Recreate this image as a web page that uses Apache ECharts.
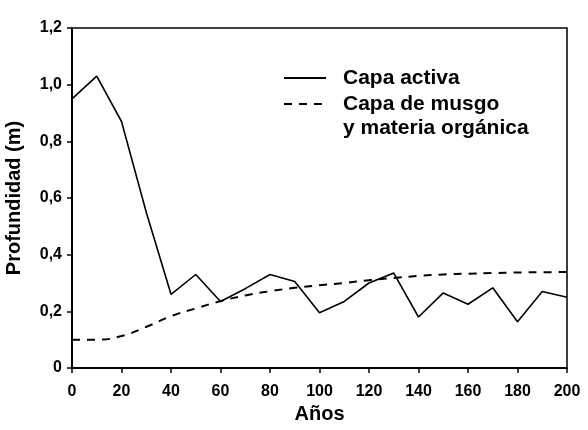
<!DOCTYPE html>
<html>
<head>
<meta charset="utf-8">
<script src="https://cdn.jsdelivr.net/npm/echarts@6/dist/echarts.min.js"></script>
<style>html,body{margin:0;padding:0;background:#fff}#c{width:588px;height:430px}</style>
</head>
<body>
<div id="c"></div>
<script>
var years = [0,10,20,30,40,50,60,70,80,90,100,110,120,130,140,150,160,170,180,190,200];
var capaActiva = [0.95,1.03,0.87,0.55,0.26,0.33,0.235,0.28,0.33,0.305,0.195,0.235,0.30,0.335,0.18,0.265,0.225,0.283,0.163,0.27,0.25];
var capaMusgo = [0.10,0.10,0.113,0.145,0.183,0.21,0.236,0.256,0.271,0.283,0.292,0.30,0.31,0.318,0.325,0.33,0.333,0.335,0.337,0.338,0.339];
var seriesNames = ['Capa activa', 'Capa de musgo\ny materia orgánica'];
var xName = 'Años';
var yName = 'Profundidad (m)';

function pairs(xs, ys){ return xs.map(function(x,i){return [x, ys[i]];}); }

var FONT = 'Liberation Sans, Arial, sans-serif';
var chart = echarts.init(document.getElementById('c'), null, {renderer:'canvas'});
chart.setOption({
  animation: false,
  backgroundColor: '#fff',
  grid: {left: 72, right: 21, top: 28, bottom: 62, containLabel: false, outerBoundsMode: 'none',
    show: true, borderColor: '#000', borderWidth: 1.5, backgroundColor: 'transparent'},
  legend: [
    {
      data: [seriesNames[0]], left: 283, top: 66, padding: 0, orient: 'vertical',
      itemWidth: 42, itemHeight: 14, itemStyle: {opacity: 0},
      textStyle: {fontFamily: FONT, fontSize: 21, fontWeight: 'bold', color: '#000', lineHeight: 24, padding: [0,0,0,12]}
    },
    {
      data: [seriesNames[1]], left: 283, top: 68, padding: 0, orient: 'vertical',
      itemWidth: 42, itemHeight: 14, itemStyle: {opacity: 0},
      formatter: function(n){ return '\n' + n; },
      textStyle: {fontFamily: FONT, fontSize: 21, fontWeight: 'bold', color: '#000', lineHeight: 24, padding: [0,0,0,12]}
    }
  ],
  xAxis: {
    type: 'value', min: 0, max: 200, interval: 20,
    name: xName, nameLocation: 'middle', nameGap: 35,
    nameTextStyle: {fontFamily: FONT, fontSize: 20, fontWeight: 'bold', color: '#000'},
    axisLine: {show: true, lineStyle: {color: '#000', width: 2}},
    axisTick: {show: true, length: 5, lineStyle: {color: '#000', width: 1.5}},
    axisLabel: {fontFamily: FONT, fontSize: 16, fontWeight: 'bold', color: '#000', margin: 16},
    splitLine: {show: false}
  },
  yAxis: {
    type: 'value', min: 0, max: 1.2, interval: 0.2,
    name: yName, nameLocation: 'middle', nameGap: 48,
    nameTextStyle: {fontFamily: FONT, fontSize: 20, fontWeight: 'bold', color: '#000'},
    axisLine: {show: true, lineStyle: {color: '#000', width: 2}},
    axisTick: {show: true, length: 5, lineStyle: {color: '#000', width: 1.5}},
    axisLabel: {fontFamily: FONT, fontSize: 16, fontWeight: 'bold', color: '#000', margin: 10,
      formatter: function(v){ return v === 0 ? '0' : v.toFixed(1).replace('.', ','); }},
    splitLine: {show: false}
  },
  series: [
    {
      name: seriesNames[0], type: 'line', data: pairs(years, capaActiva),
      symbol: 'none', lineStyle: {color: '#000', width: 1.6, type: 'solid'}, itemStyle: {color: '#000'}
    },
    {
      name: seriesNames[1], type: 'line', data: pairs(years, capaMusgo), smooth: true,
      symbol: 'none', lineStyle: {color: '#000', width: 2, type: [8, 7]}, itemStyle: {color: '#000'}
    }
  ]
});
</script>
</body>
</html>
